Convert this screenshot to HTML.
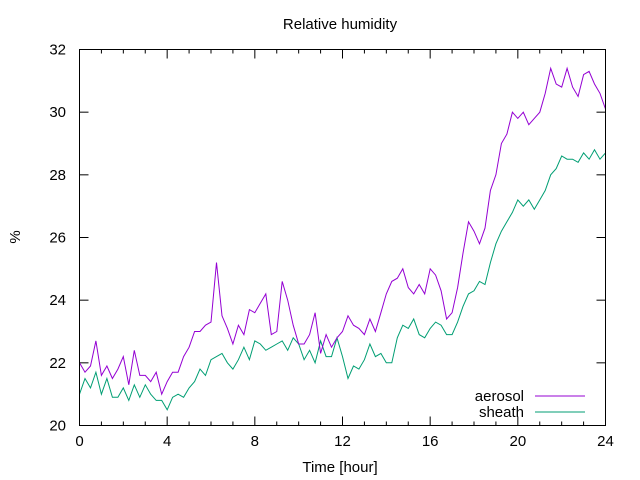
<!DOCTYPE html>
<html><head><meta charset="utf-8"><style>
html,body{margin:0;padding:0;background:#fff}
svg{display:block;font-family:"Liberation Sans","DejaVu Sans",sans-serif}
</style></head><body>
<svg id="chart" width="640" height="480" viewBox="0 0 640 480" xmlns="http://www.w3.org/2000/svg">
<text x="340" y="29" text-anchor="middle" font-size="15">Relative humidity</text>
<text x="340" y="472" text-anchor="middle" font-size="15">Time [hour]</text>
<text x="20" y="237" text-anchor="middle" font-size="15" transform="rotate(-90 20 237)">%</text>
<g id="axes"></g>
<g id="series"></g>
<g>
<text x="524" y="401" text-anchor="end" font-size="15">aerosol</text>
<line x1="535" y1="396" x2="585" y2="396" stroke="#9400d3" stroke-width="1"/>
<text x="524" y="417" text-anchor="end" font-size="15">sheath</text>
<line x1="535" y1="412" x2="585" y2="412" stroke="#009e73" stroke-width="1"/>
</g>
<rect x="79.5" y="49.5" width="526" height="376" fill="none" stroke="#000" stroke-width="1"/>
</svg>
<script>
const xTicks=[0,4,8,12,16,20,24];
const yTicks=[20,22,24,26,28,30,32];
const hours=[];for(let i=0;i<=96;i++)hours.push(i*0.25);
const aerosol=[22.0,21.7,21.9,22.7,21.6,21.9,21.5,21.8,22.2,21.3,22.4,21.6,21.6,21.4,21.7,21.0,21.4,21.7,21.7,22.2,22.5,23.0,23.0,23.2,23.3,25.2,23.5,23.1,22.6,23.2,22.9,23.7,23.6,23.9,24.2,22.9,23.0,24.6,24.0,23.2,22.6,22.6,22.9,23.6,22.3,22.9,22.5,22.8,23.0,23.5,23.2,23.1,22.9,23.4,23.0,23.6,24.2,24.6,24.7,25.0,24.4,24.2,24.5,24.2,25.0,24.8,24.3,23.4,23.6,24.4,25.5,26.5,26.2,25.8,26.3,27.5,28.0,29.0,29.3,30.0,29.8,30.0,29.6,29.8,30.0,30.6,31.4,30.9,30.8,31.4,30.8,30.5,31.2,31.3,30.9,30.6,30.1];
const sheath=[21.0,21.5,21.2,21.7,21.0,21.5,20.9,20.9,21.2,20.8,21.3,20.9,21.3,21.0,20.8,20.8,20.5,20.9,21.0,20.9,21.2,21.4,21.8,21.6,22.1,22.2,22.3,22.0,21.8,22.1,22.5,22.1,22.7,22.6,22.4,22.5,22.6,22.7,22.4,22.8,22.6,22.1,22.4,22.0,22.7,22.2,22.2,22.8,22.2,21.5,21.9,21.8,22.1,22.6,22.2,22.3,22.0,22.0,22.8,23.2,23.1,23.4,22.9,22.8,23.1,23.3,23.2,22.9,22.9,23.3,23.8,24.2,24.3,24.6,24.5,25.2,25.8,26.2,26.5,26.8,27.2,27.0,27.2,26.9,27.2,27.5,28.0,28.2,28.6,28.5,28.5,28.4,28.7,28.5,28.8,28.5,28.7];
const X0=79.5,X1=605.5,Y0=425.5,Y1=49.5;
const xs=h=>X0+(h-0)/(24-0)*(X1-X0);
const ys=v=>Y0-(v-20)/(32-20)*(Y0-Y1);
const NS="http://www.w3.org/2000/svg";
const axes=document.getElementById('axes');
function mk(tag,attrs,parent){const e=document.createElementNS(NS,tag);for(const k in attrs)e.setAttribute(k,attrs[k]);parent.appendChild(e);return e;}
for(let h=0;h<=24;h++){
  const len=(h%4===0)?9:4;const x=xs(h);
  const t1=mk('line',{x1:x,y1:Y0,x2:x,y2:Y0-len,stroke:'#000'},axes);
  
  
  const t2=mk('line',{x1:x,y1:Y1,x2:x,y2:Y1+len,stroke:'#000'},axes);
  
  
}
xTicks.forEach(h=>{
  const t=mk('text',{x:xs(h),y:446,'text-anchor':'middle','font-size':15},axes);t.textContent=h;
  
  
});
yTicks.forEach(v=>{
  const y=ys(v);
  const a=mk('line',{x1:X0,y1:y,x2:X0+9,y2:y,stroke:'#000'},axes);
  
  
  const b=mk('line',{x1:X1,y1:y,x2:X1-9,y2:y,stroke:'#000'},axes);
  
  
  const t=mk('text',{x:66,y:y+5,'text-anchor':'end','font-size':15},axes);t.textContent=v;
  
  
});
const ser=document.getElementById('series');
function line(vals,color,name){
  const pts=vals.map((v,i)=>xs(hours[i]).toFixed(1)+','+ys(v).toFixed(1)).join(' ');
  const p=mk('polyline',{points:pts,fill:'none',stroke:color,'stroke-width':1},ser);
  
  
}
line(sheath,'#009e73','sheath-line');
line(aerosol,'#9400d3','aerosol-line');
</script>
</body></html>
